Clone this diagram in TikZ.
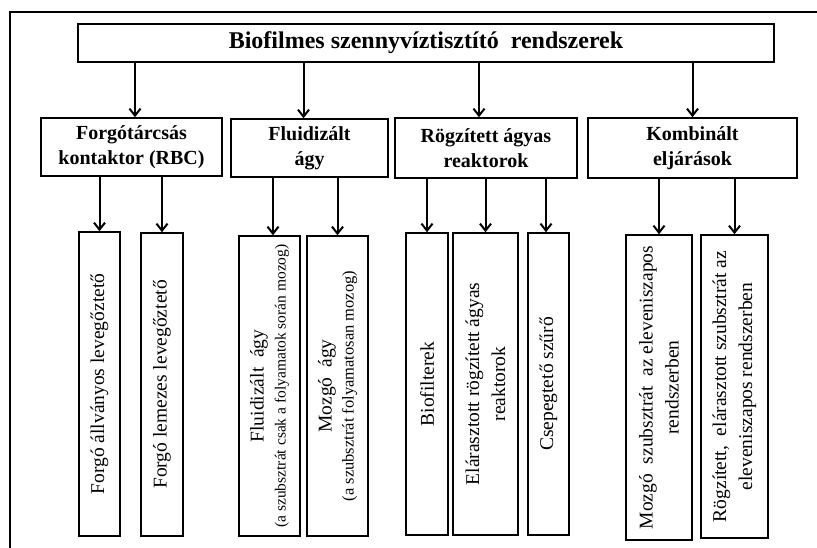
\documentclass[tikz,border=0pt]{standalone}
\usepackage{fontspec}
\setmainfont{Liberation Serif}
\usetikzlibrary{arrows.meta}
\begin{document}
\begin{tikzpicture}[x=1pt,y=-1pt,
  box/.style={draw=black, line width=1.5pt, rectangle, inner sep=0pt, align=center, fill=white},
  titlebox/.style={box, font=\fontsize{24}{28}\selectfont\bfseries},
  catbox/.style={box, font=\fontsize{20}{25}\selectfont\bfseries},
  leafbox/.style={box, rotate=90, font=\fontsize{19.5}{26}\selectfont},
  arr/.style={line width=2pt, -{Straight Barb[length=7pt,width=11pt]}},
  frame/.style={line width=2pt}
]
\path[use as bounding box, clip] (0,0) rectangle (817,547);
\fill[white] (0,0) rectangle (817,547);
\draw[frame] (10,12) rectangle (840,570);

\node[titlebox, minimum width=696pt, minimum height=38pt] (title) at (426,43) {Biofilmes szennyvíztisztító\ \ rendszerek};

\node[catbox, minimum width=181pt, minimum height=58pt] (c1) at (131.5,147) {Forgótárcsás\\kontaktor (RBC)};
\node[catbox, minimum width=157pt, minimum height=58pt] (c2) at (309.5,148) {Fluidizált\\ágy};
\node[catbox, minimum width=182pt, minimum height=60pt] (c3) at (486,148) {Rögzített ágyas\\reaktorok};
\node[catbox, minimum width=209pt, minimum height=60pt] (c4) at (692.5,148) {Kombinált\\eljárások};

\node[leafbox, minimum width=304pt, minimum height=41pt] (l1a) at (99.5,384) {Forgó állványos levegőztető};
\node[leafbox, minimum width=303pt, minimum height=42pt] (l1b) at (162,384.5) {Forgó lemezes levegőztető};
\node[leafbox, minimum width=300pt, minimum height=61pt] (l2a) at (269.5,386) {Fluidizált\ \ ágy\\[-4pt]{\fontsize{15.5}{18}\selectfont (a szubsztrát csak a folyamatok során mozog)}};
\node[leafbox, minimum width=300pt, minimum height=61pt] (l2b) at (337.5,386) {Mozgó\ \ ágy\\[-4pt]{\fontsize{16.5}{18}\selectfont (a szubsztrát folyamatosan mozog)}};
\node[leafbox, minimum width=302pt, minimum height=42pt] (l3a) at (427,384) {Biofilterek};
\node[leafbox, minimum width=302pt, minimum height=65pt] (l3b) at (485.5,384) {Elárasztott rögzített ágyas\\reaktorok};
\node[leafbox, minimum width=302pt, minimum height=41pt] (l3c) at (548.5,384) {Csepegtető szűrő};
\node[leafbox, minimum width=305pt, minimum height=66pt] (l4a) at (659,387.5) {Mozgó\ \ szubsztrát\ \ az eleveniszapos\\rendszerben};
\node[leafbox, minimum width=303pt, minimum height=67pt] (l4b) at (734.5,386.5) {Rögzített,\ \ elárasztott szubsztrát az\\eleveniszapos rendszerben};

\coordinate (t1) at ([xshift=3.5pt]c1.north);
\coordinate (t2) at ([xshift=-6pt]c2.north);
\coordinate (t3) at ([xshift=-7pt]c3.north);
\coordinate (t4) at (c4.north);
\coordinate (e2a) at ([xshift=3.5pt]l2a.east);
\coordinate (e3c) at ([xshift=-2.5pt]l3c.east);

\foreach \t in {t1,t2,t3,t4}{
  \draw[arr] (title.south -| \t) -- (\t);
}

\draw[arr] (c1.south -| l1a.east) -- (l1a.east);
\draw[arr] (c1.south -| l1b.east) -- (l1b.east);
\draw[arr] (c2.south -| e2a) -- (e2a);
\draw[arr] (c2.south -| l2b.east) -- (l2b.east);
\draw[arr] (c3.south -| l3a.east) -- (l3a.east);
\draw[arr] (c3.south -| l3b.east) -- (l3b.east);
\draw[arr] (c3.south -| e3c) -- (e3c);
\draw[arr] (c4.south -| l4a.east) -- (l4a.east);
\draw[arr] (c4.south -| l4b.east) -- (l4b.east);
\end{tikzpicture}
\end{document}
